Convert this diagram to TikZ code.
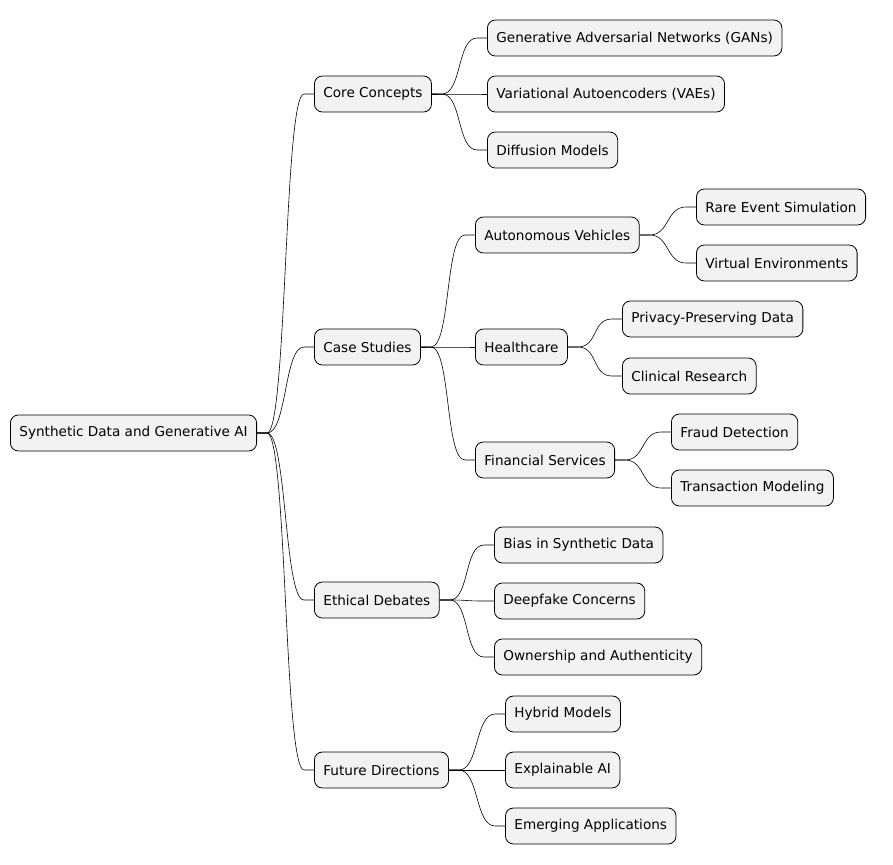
\documentclass[tikz,border=0pt]{standalone}
\usepackage{fontspec}
\setmainfont{DejaVu Sans}
\usepackage{tikz}
\usetikzlibrary{calc}

\tikzset{
  topic/.style={draw, thick, fill=black!5, rounded corners=8pt, anchor=west,
    minimum height=36pt, inner xsep=9pt, font=\fontsize{13.6}{16}\selectfont},
  branch/.style={draw, line width=0.6pt},
}
\newcommand{\bough}[2]{\draw[branch] (#1.east) -- ++(10,0) .. controls ($(#1.east)+(30,0)$) and ($(#2.west)+(-30,0)$) .. ($(#2.west)+(-10,0)$) -- (#2.west);}

\begin{document}
\begin{tikzpicture}[x=1pt,y=-1pt]
  \useasboundingbox (0,0) rectangle (893,864);
  % root and first level
  \node[topic] (root) at (10,433) {Synthetic Data and Generative AI};
  \node[topic] (core) at (314,94) {Core Concepts};
  \node[topic] (case) at (314,347) {Case Studies};
  \node[topic] (ethics) at (314,600) {Ethical Debates};
  \node[topic] (future) at (314,770) {Future Directions};
  % core concepts
  \node[topic] (gan) at (487,38) {Generative Adversarial Networks (GANs)};
  \node[topic] (vae) at (487,94) {Variational Autoencoders (VAEs)};
  \node[topic] (diff) at (487,150) {Diffusion Models};
  % case studies
  \node[topic] (auto) at (475,235) {Autonomous Vehicles};
  \node[topic] (rare) at (696,207) {Rare Event Simulation};
  \node[topic] (virt) at (696,263) {Virtual Environments};
  \node[topic] (health) at (475,347) {Healthcare};
  \node[topic] (priv) at (622,319) {Privacy-Preserving Data};
  \node[topic] (clin) at (622,376) {Clinical Research};
  \node[topic] (fin) at (475,460) {Financial Services};
  \node[topic] (fraud) at (671,432) {Fraud Detection};
  \node[topic] (trans) at (671,488) {Transaction Modeling};
  % ethical debates
  \node[topic] (bias) at (494,545) {Bias in Synthetic Data};
  \node[topic] (deep) at (494,601) {Deepfake Concerns};
  \node[topic] (own) at (494,657) {Ownership and Authenticity};
  % future directions
  \node[topic] (hyb) at (505,714) {Hybrid Models};
  \node[topic] (expl) at (505,770) {Explainable AI};
  \node[topic] (emer) at (505,826) {Emerging Applications};

  \foreach \p/\c in {root/core,root/case,root/ethics,root/future,core/gan,core/vae,core/diff,case/auto,case/health,case/fin,auto/rare,auto/virt,health/priv,health/clin,fin/fraud,fin/trans,ethics/bias,ethics/deep,ethics/own,future/hyb,future/expl,future/emer}{
    \bough{\p}{\c}
  }
\end{tikzpicture}
\end{document}
